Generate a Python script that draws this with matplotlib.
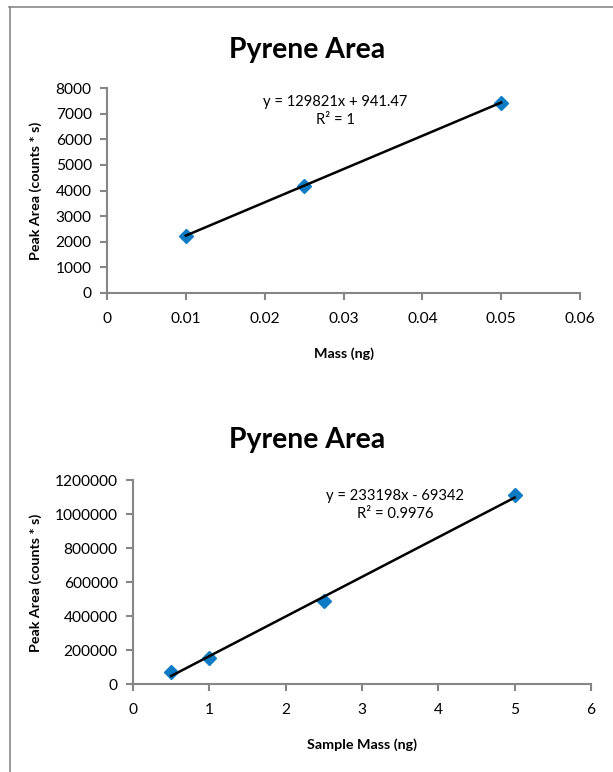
import matplotlib
matplotlib.use("Agg")
import matplotlib.pyplot as plt
from matplotlib.lines import Line2D

plt.rcParams['font.family'] = ['Lato', 'DejaVu Sans']

W, H = 613, 772

# top chart: calibration by mass
mass_ng = [0.01, 0.025, 0.05]
area_top = [2240, 4190, 7430]
fit_top = (129821, 941.47)
eq_top = ["y = 129821x + 941.47", "R\u00b2 = 1"]

# bottom chart: sample mass
sample_ng = [0.5, 1, 2.5, 5]
area_bot = [70000, 152000, 488000, 1110000]
fit_bot = (233198, -69342)
eq_bot = ["y = 233198x - 69342", "R\u00b2 = 0.9976"]

top_xticks = [0, 0.01, 0.02, 0.03, 0.04, 0.05, 0.06]
top_xlabels = ["0", "0.01", "0.02", "0.03", "0.04", "0.05", "0.06"]
top_yticks = list(range(0, 8001, 1000))
bot_xticks = list(range(0, 7))
bot_yticks = list(range(0, 1200001, 200000))

AXIS_GREY = "#868686"
BLUE = "#0C7BC3"


def px_axes(fig, left, top, right, bottom):
  return fig.add_axes([left / W, 1 - bottom / H, (right - left) / W, (bottom - top) / H])


def style(ax):
  for s in ("top", "right"):
    ax.spines[s].set_visible(False)
  for s in ("left", "bottom"):
    ax.spines[s].set_color(AXIS_GREY)
    ax.spines[s].set_linewidth(1.5)
  ax.tick_params(axis="both", direction="out", length=5, width=1.5,
                 color=AXIS_GREY, labelsize=11.2, labelcolor="black")
  ax.tick_params(axis="x", pad=9)
  ax.tick_params(axis="y", pad=6)


def draw(ax, xs, ys, fit, xmin, xmax):
  tx = [min(xs), max(xs)]
  ty = [fit[0] * v + fit[1] for v in tx]
  ax.plot(xs, ys, linestyle="none", marker="D", markersize=7.5,
          color=BLUE, zorder=3, clip_on=False)
  ax.plot(tx, ty, color="black", linewidth=1.8, zorder=4, clip_on=False)
  ax.set_xlim(xmin, xmax)


fig = plt.figure(figsize=(W / 100, H / 100), dpi=100)

# thin frame (top and left edges of the chart box)
fig.add_artist(Line2D([9 / W, 1], [1 - 7 / H, 1 - 7 / H], color="#7f7f7f", linewidth=1.1))
fig.add_artist(Line2D([10 / W, 10 / W], [0, 1 - 7 / H], color="#7f7f7f", linewidth=1.1))

# --- top chart ---
ax1 = px_axes(fig, 107, 88, 580, 293)
draw(ax1, mass_ng, area_top, fit_top, 0, 0.06)
ax1.set_ylim(0, 8000)
ax1.set_xticks(top_xticks)
ax1.set_xticklabels(top_xlabels)
ax1.set_yticks(top_yticks)
style(ax1)
ax1.set_xlabel("Mass (ng)", fontsize=10.3, fontweight="bold")
ax1.xaxis.set_label_coords(0.5, -0.263)
ax1.set_ylabel("Peak Area (counts * s)", fontsize=10.3, fontweight="bold")
ax1.yaxis.set_label_coords(-0.137, 0.5)
fig.text(307 / W, 1 - 50 / H, "Pyrene Area", ha="center", va="center",
         fontsize=20.4, fontweight="bold")
ax1.text(0.482, 0.888, "\n".join(eq_top), transform=ax1.transAxes,
         ha="center", va="center", fontsize=10.6, linespacing=1.4)

# --- bottom chart ---
ax2 = px_axes(fig, 133, 480, 591, 684)
draw(ax2, sample_ng, area_bot, fit_bot, 0, 6)
ax2.set_ylim(0, 1200000)
ax2.set_xticks(bot_xticks)
ax2.set_yticks(bot_yticks)
ax2.set_yticklabels([str(v) for v in bot_yticks])
style(ax2)
ax2.set_xlabel("Sample Mass (ng)", fontsize=10.3, fontweight="bold")
ax2.xaxis.set_label_coords(0.5, -0.265)
ax2.set_ylabel("Peak Area (counts * s)", fontsize=10.3, fontweight="bold")
ax2.yaxis.set_label_coords(-0.199, 0.495)
fig.text(307 / W, 1 - 440 / H, "Pyrene Area", ha="center", va="center",
         fontsize=20.4, fontweight="bold")
ax2.text(0.572, 0.878, "\n".join(eq_bot), transform=ax2.transAxes,
         ha="center", va="center", fontsize=10.6, linespacing=1.4)

fig.savefig("out.png", dpi=100)
